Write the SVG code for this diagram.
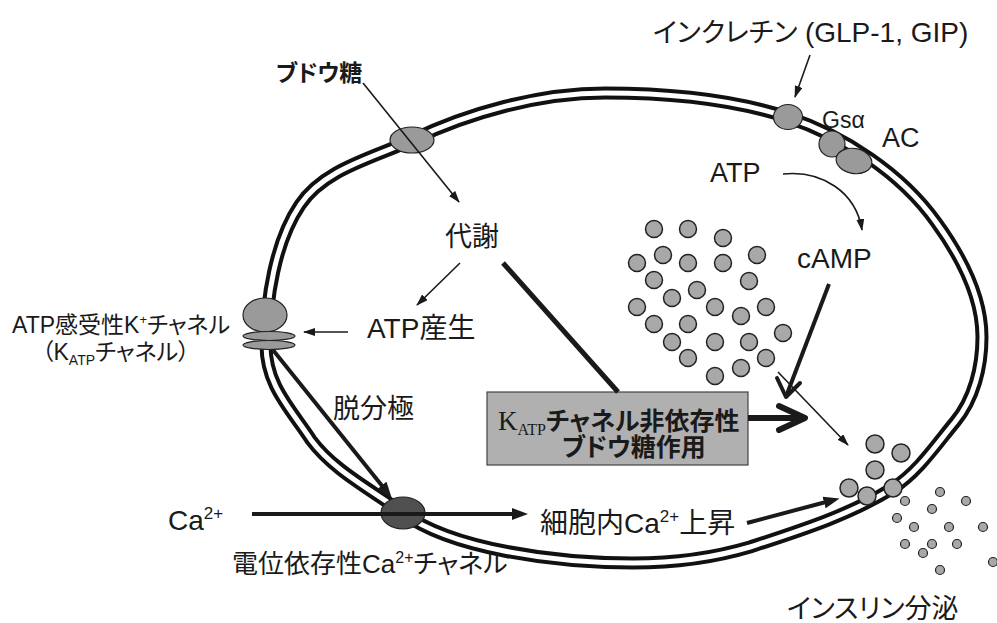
<svg xmlns="http://www.w3.org/2000/svg" width="997" height="623" viewBox="0 0 997 623">
  <style>
    .t { font-family: "Liberation Sans", "Noto Sans CJK JP", sans-serif; fill: #1a1a1a; font-feature-settings: "palt" 1; }
    .thin { stroke: #1a1a1a; stroke-width: 1.6; fill: none; }
    .thick { stroke: #1a1a1a; stroke-width: 4; fill: none; }
    .prot { fill: #9a9a9a; stroke: #222; stroke-width: 1.2; }
    .ves { fill: #a8a8a8; stroke: #222; stroke-width: 1.5; }
    .sm { fill: #a8a8a8; stroke: #222; stroke-width: 1.2; }
  </style>
  <defs>
    <marker id="ah" viewBox="0 0 12 8" refX="11" refY="4" markerWidth="12" markerHeight="8" markerUnits="userSpaceOnUse" orient="auto">
      <path d="M0,0 L12,4 L0,8 z" fill="#1a1a1a"/>
    </marker>
    <marker id="ahBig" viewBox="0 0 16 12" refX="2" refY="6" markerWidth="16" markerHeight="12" markerUnits="userSpaceOnUse" orient="auto">
      <path d="M0,0 L16,6 L0,12 z" fill="#1a1a1a"/>
    </marker>
    <path id="membranePath" d="M 266,345 C 266,300 275,242 300,205 C 324,169 373,158 412,140 C 468,113 539,93 605,93 C 666,93 729,98 787,117 C 844,136 901,173 936,222 C 960,255 982,296 982,337 C 982,367 974,399 955,422 C 936,445 918,472 893,488 C 850,515 799,531 750,547 C 713,558 672,563 633,563 C 555,563 451,549 403,513 C 372,490 334,471 311,440 C 290,408 266,385 266,345 Z"/>
  </defs>

  <rect width="997" height="623" fill="#ffffff"/>

  <!-- cell membrane: double line -->
  <g id="membrane">
    <use href="#membranePath" fill="none" stroke="#111" stroke-width="13"/>
    <use href="#membranePath" fill="none" stroke="#fff" stroke-width="5"/>
  </g>

  <!-- secretory granules in the cytoplasm -->
  <g id="granules">
    <circle class="ves" cx="654" cy="229" r="8.5"/>
    <circle class="ves" cx="688" cy="229" r="8.5"/>
    <circle class="ves" cx="723" cy="238" r="8.5"/>
    <circle class="ves" cx="757" cy="255" r="8.5"/>
    <circle class="ves" cx="637" cy="263" r="8.5"/>
    <circle class="ves" cx="663" cy="255" r="8.5"/>
    <circle class="ves" cx="688" cy="263" r="8.5"/>
    <circle class="ves" cx="723" cy="263" r="8.5"/>
    <circle class="ves" cx="654" cy="280" r="8.5"/>
    <circle class="ves" cx="749" cy="281" r="8.5"/>
    <circle class="ves" cx="697" cy="290" r="8.5"/>
    <circle class="ves" cx="672" cy="298" r="8.5"/>
    <circle class="ves" cx="637" cy="307" r="8.5"/>
    <circle class="ves" cx="715" cy="307" r="8.5"/>
    <circle class="ves" cx="741" cy="316" r="8.5"/>
    <circle class="ves" cx="766" cy="307" r="8.5"/>
    <circle class="ves" cx="654" cy="324" r="8.5"/>
    <circle class="ves" cx="688" cy="324" r="8.5"/>
    <circle class="ves" cx="783" cy="333" r="8.5"/>
    <circle class="ves" cx="672" cy="342" r="8.5"/>
    <circle class="ves" cx="715" cy="342" r="8.5"/>
    <circle class="ves" cx="749" cy="342" r="8.5"/>
    <circle class="ves" cx="688" cy="358" r="8.5"/>
    <circle class="ves" cx="766" cy="358" r="8.5"/>
    <circle class="ves" cx="741" cy="368" r="8.5"/>
    <circle class="ves" cx="715" cy="376" r="8.5"/>
  </g>

  <!-- glucose transporter -->
  <g id="glucoseTransporter">
    <ellipse class="prot" cx="412" cy="140" rx="22" ry="13"/>
  </g>

  <!-- incretin receptor, Gs alpha, adenylate cyclase -->
  <g id="receptor">
    <ellipse class="prot" cx="788" cy="117" rx="14.5" ry="12.5"/>
  </g>
  <g id="gsAlpha">
    <circle class="prot" cx="832" cy="144" r="13" fill="#b0b0b0"/>
  </g>
  <g id="adenylateCyclase">
    <ellipse class="prot" cx="854" cy="161" rx="18" ry="12.5" transform="rotate(10 854 161)"/>
  </g>

  <!-- ATP-sensitive K+ channel -->
  <g id="katpChannel">
    <ellipse class="prot" cx="265" cy="315" rx="22" ry="17"/>
    <ellipse class="prot" cx="269" cy="336" rx="26" ry="4.5"/>
    <ellipse class="prot" cx="269" cy="345" rx="26" ry="4.5"/>
  </g>

  <!-- voltage-gated Ca2+ channel -->
  <g id="caChannel">
    <ellipse cx="403" cy="513" rx="22" ry="16" fill="#505050" stroke="#222" stroke-width="1.2"/>
  </g>

  <!-- granules docking at the membrane and released insulin -->
  <g id="docked">
    <circle class="ves" cx="875" cy="444" r="9"/>
    <circle class="ves" cx="901" cy="453" r="9"/>
    <circle class="ves" cx="875" cy="470" r="9"/>
    <circle class="ves" cx="849" cy="488" r="9"/>
    <circle class="ves" cx="867" cy="496" r="9"/>
    <circle class="ves" cx="893" cy="488" r="9"/>
  </g>
  <g id="released">
    <circle class="sm" cx="905" cy="501" r="4.5"/>
    <circle class="sm" cx="940" cy="492" r="4.5"/>
    <circle class="sm" cx="966" cy="501" r="4.5"/>
    <circle class="sm" cx="932" cy="509" r="4.5"/>
    <circle class="sm" cx="897" cy="518" r="4.5"/>
    <circle class="sm" cx="914" cy="527" r="4.5"/>
    <circle class="sm" cx="949" cy="527" r="4.5"/>
    <circle class="sm" cx="983" cy="527" r="4.5"/>
    <circle class="sm" cx="905" cy="544" r="4.5"/>
    <circle class="sm" cx="932" cy="544" r="4.5"/>
    <circle class="sm" cx="957" cy="544" r="4.5"/>
    <circle class="sm" cx="923" cy="553" r="4.5"/>
    <circle class="sm" cx="993" cy="562" r="4.5"/>
    <circle class="sm" cx="940" cy="570" r="4.5"/>
  </g>

  <!-- KATP-independent pathway box -->
  <g id="independentBox">
    <rect x="487" y="392" width="261" height="73" fill="#b0b0b0" stroke="#444" stroke-width="1.2"/>
    <text class="t" x="498" y="430" font-size="25" font-weight="bold"><tspan font-family="Liberation Serif" font-weight="normal" font-size="27">K</tspan><tspan font-family="Liberation Serif" font-weight="normal" font-size="16" dy="5">ATP</tspan><tspan dy="-5">チャネル非依存性</tspan></text>
    <text class="t" x="562" y="456" font-size="25" font-weight="bold">ブドウ糖作用</text>
  </g>

  <!-- connectors -->
  <g id="connectors">
    <line class="thin" x1="363" y1="83" x2="459" y2="202" marker-end="url(#ah)"/>
    <line class="thin" x1="810" y1="55" x2="795" y2="97" marker-end="url(#ah)"/>
    <path class="thin" d="M 783,174 C 822,170 856,192 862,230" marker-end="url(#ah)"/>
    <line class="thin" x1="460" y1="263" x2="417" y2="305" marker-end="url(#ah)"/>
    <line class="thin" x1="348" y1="332" x2="304" y2="332" marker-end="url(#ah)"/>
    <line x1="503" y1="263" x2="618" y2="392" stroke="#1a1a1a" stroke-width="5"/>
    <line class="thick" x1="273" y1="350" x2="383" y2="487" marker-end="url(#ahBig)"/>
    <line class="thick" x1="252" y1="514" x2="514" y2="514" marker-end="url(#ahBig)"/>
    <line class="thick" x1="747" y1="523" x2="826" y2="502" marker-end="url(#ahBig)"/>
    <line class="thin" x1="778" y1="372" x2="848" y2="445" marker-end="url(#ah)"/>
    <line x1="829" y1="284" x2="787" y2="394" stroke="#1a1a1a" stroke-width="4"/>
    <polyline points="777,378 786,397 800,383" fill="none" stroke="#1a1a1a" stroke-width="4" stroke-linecap="round" stroke-linejoin="round"/>
    <line x1="748" y1="418" x2="802" y2="418" stroke="#1a1a1a" stroke-width="6"/>
    <polyline points="779,406 805,418 779,430" fill="none" stroke="#1a1a1a" stroke-width="6" stroke-linecap="round" stroke-linejoin="round"/>
  </g>

  <!-- labels -->
  <g id="labels">
    <text class="t" x="276" y="81" font-size="23" font-weight="bold">ブドウ糖</text>
    <text class="t" x="653" y="42" font-size="27">インクレチン <tspan font-size="28">(GLP-1, GIP)</tspan></text>
    <text class="t" x="822" y="128" font-size="23">Gsα</text>
    <text class="t" x="882" y="147" font-size="27">AC</text>
    <text class="t" x="710" y="182" font-size="27">ATP</text>
    <text class="t" x="797" y="268" font-size="28">cAMP</text>
    <text class="t" x="445" y="246" font-size="27">代謝</text>
    <text class="t" x="367" y="338" font-size="28">ATP産生</text>
    <text class="t" x="333" y="418" font-size="27">脱分極</text>
    <text class="t" x="12" y="333" font-size="23">ATP感受性K<tspan font-size="13" dy="-9">+</tspan><tspan dy="9">チャネル</tspan></text>
    <text class="t" x="42" y="360" font-size="23">（K<tspan font-size="14" dy="5">ATP</tspan><tspan dy="-5">チャネル）</tspan></text>
    <text class="t" x="168" y="530" font-size="28">Ca<tspan font-size="17" dy="-11">2+</tspan></text>
    <text class="t" x="232" y="573" font-size="26">電位依存性Ca<tspan font-size="16" dy="-10">2+</tspan><tspan dy="10">チャネル</tspan></text>
    <text class="t" x="540" y="533" font-size="28">細胞内Ca<tspan font-size="17" dy="-11">2+</tspan><tspan dy="11">上昇</tspan></text>
    <text class="t" x="787" y="618" font-size="27">インスリン分泌</text>
  </g>
</svg>
